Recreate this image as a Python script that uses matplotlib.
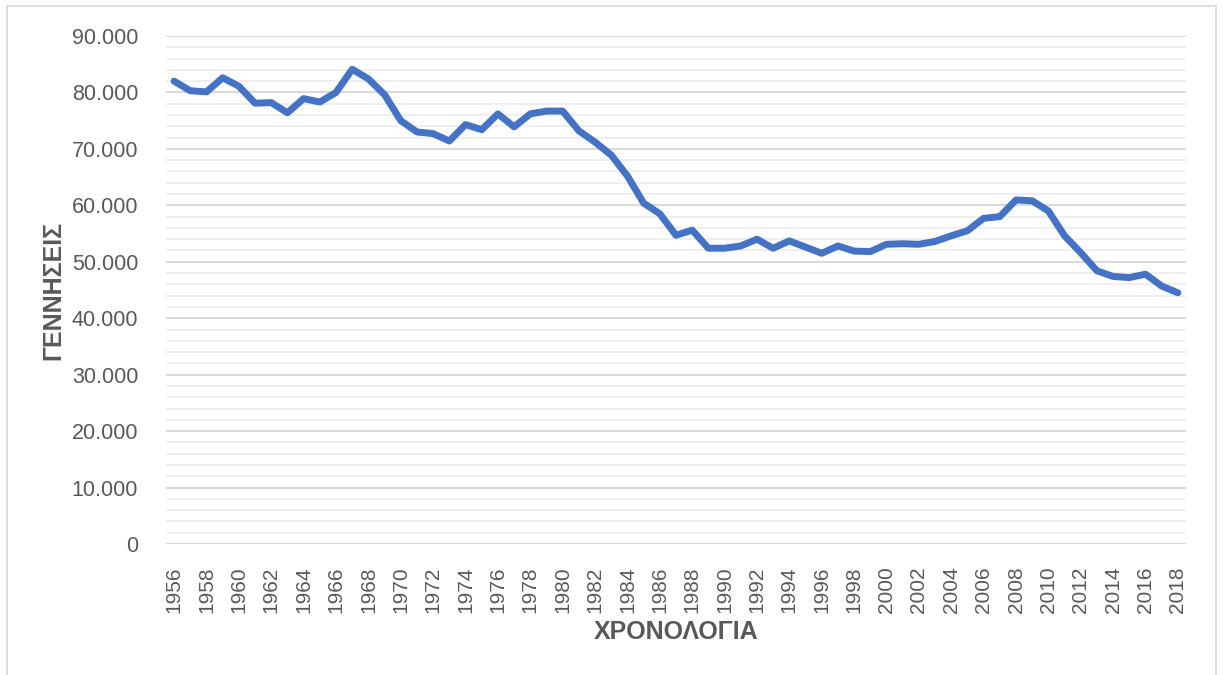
import matplotlib
matplotlib.use("Agg")
import matplotlib.pyplot as plt
from matplotlib.ticker import MultipleLocator, FuncFormatter
from matplotlib.lines import Line2D

# Annual live births, 1956-2018
years = list(range(1956, 2019))
births = [
    82000, 80300, 80100, 82600, 81100, 78100, 78200, 76400, 78900, 78300,
    80000, 84100, 82400, 79600, 75000, 73000, 72700, 71400, 74300, 73400,
    76200, 73900, 76200, 76700, 76700, 73200, 71200, 68900, 65200, 60400,
    58500, 54700, 55600, 52400, 52400, 52800, 54000, 52400, 53700, 52600,
    51500, 52800, 51900, 51800, 53100, 53200, 53100, 53600, 54600, 55500,
    57700, 58000, 60950, 60800, 59000, 54600, 51600, 48400, 47400, 47200,
    47800, 45700, 44500,
]
x_labels = [str(y) for y in years[::2]]
y_title = "ΓΕΝΝΗΣΕΙΣ"
x_title = "ΧΡΟΝΟΛΟΓΙΑ"

W, H = 1224, 675
fig = plt.figure(figsize=(W / 100, H / 100), dpi=100)
fig.patch.set_facecolor("white")
plt.rcParams["font.family"] = ["Liberation Sans", "DejaVu Sans"]

ax = fig.add_axes([166 / W, 1 - 544 / H, (1186 - 166) / W, (544 - 36) / H])
ax.plot(years, births, color="#4472C4", linewidth=5.0,
        solid_joinstyle="round", solid_capstyle="round", zorder=3)

ax.set_xlim(1955.5, 2018.5)
ax.set_ylim(0, 90000)
ax.set_xticks(years[::2])
ax.set_xticklabels(x_labels, rotation=90)
ax.yaxis.set_major_locator(MultipleLocator(10000))
ax.yaxis.set_minor_locator(MultipleLocator(2000))
ax.yaxis.set_major_formatter(
    FuncFormatter(lambda v, p: f"{v:,.0f}".replace(",", ".")))

ax.grid(axis="y", which="major", color="#D9D9D9", linewidth=1.4, zorder=1)
ax.grid(axis="y", which="minor", color="#EFEFEF", linewidth=1.4, zorder=0)
ax.set_axisbelow(True)
for s in ax.spines.values():
    s.set_visible(False)

ax.tick_params(axis="both", which="both", length=0)
ax.tick_params(axis="y", labelsize=15.5, labelcolor="#595959", pad=20)
ax.tick_params(axis="x", labelsize=15, labelcolor="#595959", pad=16)

fig.text(676 / W, 1 - 632 / H, x_title, ha="center", va="center",
         fontsize=18, fontweight="bold", color="#595959")
fig.text(53 / W, 1 - 290 / H, y_title, ha="center", va="center",
         rotation=90, fontsize=18, fontweight="bold", color="#595959")

# chart-area frame
frame_c = "#D9D9D9"
for xs, ys in [([7, 7], [6, 675]), ([7, 1216], [6, 6]), ([1216, 1216], [6, 675])]:
    fig.add_artist(Line2D([v / W for v in xs], [1 - v / H for v in ys],
                          color=frame_c, linewidth=1.2))

fig.savefig("out.png", dpi=100, facecolor="white")
